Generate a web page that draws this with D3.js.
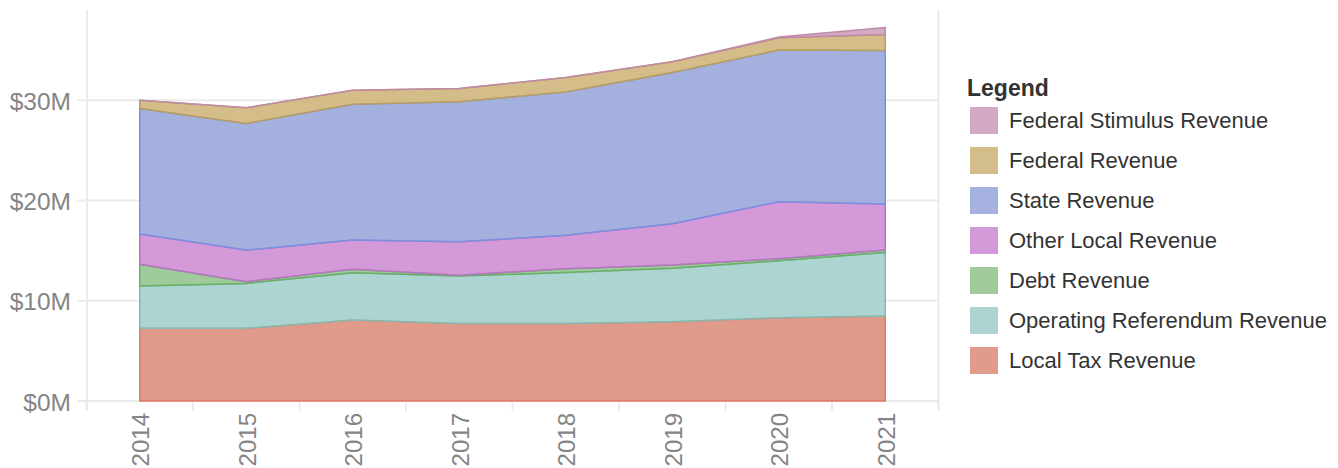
<!DOCTYPE html>
<html>
<head>
<meta charset="utf-8">
<script src="https://cdn.jsdelivr.net/npm/d3@7"></script>
<style>
  html, body { margin: 0; padding: 0; background: #fff; }
  svg { display: block; font-family: "Liberation Sans", Arial, sans-serif; }
</style>
</head>
<body>
<svg id="chart" width="1338" height="468"></svg>
<script>
// ---- data (values in $ millions) ----
const years = [2014, 2015, 2016, 2017, 2018, 2019, 2020, 2021];
const seriesNames = [
  "Local Tax Revenue",
  "Operating Referendum Revenue",
  "Debt Revenue",
  "Other Local Revenue",
  "State Revenue",
  "Federal Revenue",
  "Federal Stimulus Revenue"
];
const localTax      = [7.25, 7.25, 8.07, 7.74, 7.74, 7.91, 8.31, 8.47];
const opReferendum  = [4.22, 4.48, 4.73, 4.72, 5.08, 5.32, 5.68, 6.35];
const debt          = [2.16, 0.17, 0.33, 0.09, 0.37, 0.33, 0.20, 0.23];
const otherLocal    = [3.02, 3.15, 2.92, 3.33, 3.35, 4.12, 5.68, 4.59];
const state         = [12.53, 12.63, 13.55, 13.96, 14.29, 15.09, 15.13, 15.33];
const federal       = [0.82, 1.57, 1.40, 1.33, 1.43, 1.06, 1.22, 1.58];
const stimulus      = [0, 0, 0, 0, 0, 0, 0.08, 0.71];
const yTicks = [0, 10, 20, 30];
const legendOrder = [
  "Federal Stimulus Revenue",
  "Federal Revenue",
  "State Revenue",
  "Other Local Revenue",
  "Debt Revenue",
  "Operating Referendum Revenue",
  "Local Tax Revenue"
];

// ---- styles ----
const fillColors = {
  "Local Tax Revenue": "#da8875",
  "Operating Referendum Revenue": "#9dccc9",
  "Debt Revenue": "#8ec28a",
  "Other Local Revenue": "#cb87d1",
  "State Revenue": "#94a3d8",
  "Federal Revenue": "#ccb274",
  "Federal Stimulus Revenue": "#cb9bbb"
};
const swatchColors = {
  "Local Tax Revenue": "#e09b8a",
  "Operating Referendum Revenue": "#aed4d1",
  "Debt Revenue": "#a0ca9c",
  "Other Local Revenue": "#d29ad8",
  "State Revenue": "#a5b2df",
  "Federal Revenue": "#d3be8b",
  "Federal Stimulus Revenue": "#d3a9c5"
};
const strokeColors = {
  "Local Tax Revenue": "#e07a66",
  "Operating Referendum Revenue": "#86b8b0",
  "Debt Revenue": "#6aaf68",
  "Other Local Revenue": "#b477c0",
  "State Revenue": "#7c8ee0",
  "Federal Revenue": "#b89e60",
  "Federal Stimulus Revenue": "#c08aa8"
};

const valuesBySeries = {
  "Local Tax Revenue": localTax,
  "Operating Referendum Revenue": opReferendum,
  "Debt Revenue": debt,
  "Other Local Revenue": otherLocal,
  "State Revenue": state,
  "Federal Revenue": federal,
  "Federal Stimulus Revenue": stimulus
};
const table = years.map((yr, i) => {
  const row = { year: yr };
  seriesNames.forEach(n => row[n] = valuesBySeries[n][i]);
  return row;
});

const svg = d3.select("#chart");
const plotLeft = 86.5, plotRight = 938.5, plotTop = 10, plotBottom = 401;

const x = d3.scaleBand().domain(years).range([plotLeft, plotRight]).padding(0);
const cx = d => x(d) + x.bandwidth() / 2;
const y = d3.scaleLinear().domain([0, 39]).range([plotBottom, plotTop]);

const gridColor = "#ebebeb";

// grid
const grid = svg.append("g");
grid.selectAll("line.h").data(yTicks).join("line")
  .attr("x1", 77).attr("x2", plotRight)
  .attr("y1", d => y(d)).attr("y2", d => y(d))
  .attr("stroke", gridColor).attr("stroke-width", 2);
grid.append("line").attr("x1", 87).attr("x2", 87).attr("y1", plotTop).attr("y2", 411)
  .attr("stroke", gridColor).attr("stroke-width", 2);
grid.append("line").attr("x1", plotRight).attr("x2", plotRight).attr("y1", plotTop).attr("y2", 411)
  .attr("stroke", gridColor).attr("stroke-width", 2);
const bounds = years.map(d => x(d)).concat([plotRight]);
grid.selectAll("line.v").data(bounds).join("line")
  .attr("x1", d => d).attr("x2", d => d).attr("y1", plotBottom).attr("y2", 411)
  .attr("stroke", gridColor).attr("stroke-width", 2);

// stacked areas
const stack = d3.stack().keys(seriesNames);
const layers = stack(table);
const area = d3.area()
  .x(d => cx(d.data.year))
  .y0(d => y(d[0]))
  .y1(d => y(d[1]))
  .curve(d3.curveLinear);

svg.append("g").selectAll("path").data(layers).join("path")
  .attr("d", area)
  .attr("fill", d => fillColors[d.key])
  .attr("fill-opacity", 0.85)
  .attr("stroke", d => strokeColors[d.key])
  .attr("stroke-width", 1.5)
  .attr("stroke-linejoin", "round");

// y axis labels
const yAxis = d3.axisLeft(y).tickValues(yTicks).tickFormat(d => "$" + d + "M").tickSize(0).tickPadding(0);
const gy = svg.append("g").attr("transform", "translate(71,0)").call(yAxis);
gy.select(".domain").remove();
gy.selectAll("text")
  .attr("font-size", 24.5)
  .attr("fill", "#858585")
  .attr("font-family", "'Liberation Sans', Arial, sans-serif")
  .attr("dy", "0.37em");

// x axis labels
const xAxis = d3.axisBottom(x).tickSize(0).tickPadding(0);
const gx = svg.append("g").attr("transform", "translate(0,413)").call(xAxis);
gx.select(".domain").remove();
gx.selectAll("text")
  .attr("font-size", 24)
  .attr("fill", "#858585")
  .attr("font-family", "'Liberation Sans', Arial, sans-serif")
  .attr("text-anchor", "end")
  .attr("dy", "0.36em")
  .attr("y", 0)
  .attr("x", 0)
  .attr("transform", "translate(1,0) rotate(-90)");

// legend
const lg = svg.append("g");
lg.append("text").attr("x", 967).attr("y", 96)
  .attr("font-size", 23).attr("font-weight", "bold").attr("fill", "#333")
  .text("Legend");
const items = lg.selectAll("g.item").data(legendOrder).join("g")
  .attr("transform", (d, i) => `translate(970,${107 + i * 40})`);
items.append("rect").attr("width", 28).attr("height", 27)
  .attr("fill", d => swatchColors[d]);
items.append("text").attr("x", 39).attr("y", 13.5).attr("dy", "0.36em")
  .attr("font-size", 22).attr("fill", "#333")
  .text(d => d);
</script>
</body>
</html>
